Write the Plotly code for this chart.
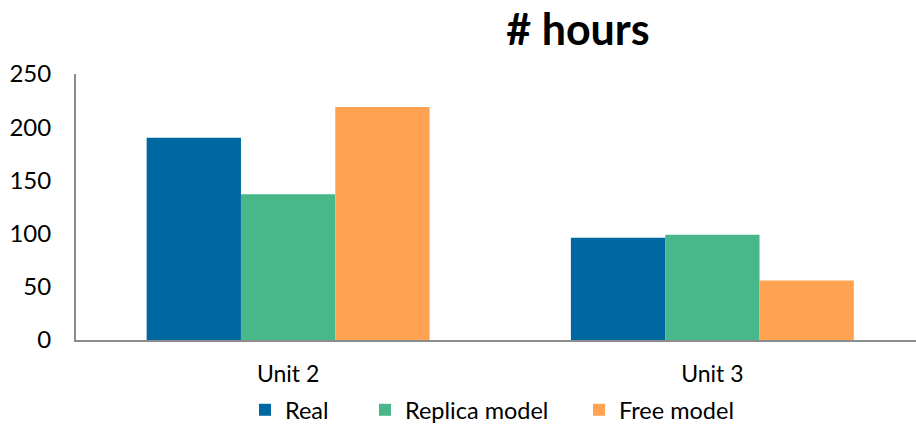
import plotly.graph_objects as go

categories = ["Unit 2", "Unit 3"]
real = [190, 96]
replica = [137, 99]
free = [219, 56]
series_names = ["Real", "Replica model", "Free model"]
colors = ["#0068A1", "#48B78A", "#FFA352"]
y_ticks = [0, 50, 100, 150, 200, 250]
legend_ids = ["legend", "legend2", "legend3"]
legend_x = [245, 365, 579]  # container px, left edge of each legend entry

fig = go.Figure()
for name, vals, col, lg in zip(series_names, [real, replica, free], colors, legend_ids):
    fig.add_trace(go.Bar(x=categories, y=vals, name=name, marker_color=col,
                         marker_line_width=0, legend=lg))

font_family = "Lato, 'Open Sans', sans-serif"
legend_common = dict(orientation="h", xanchor="left", yanchor="middle",
                     xref="container", yref="container", y=(428 - 410) / 428,
                     font=dict(size=23.5, family=font_family, color="black"),
                     bgcolor="rgba(0,0,0,0)")
fig.update_layout(
    width=916, height=428,
    margin=dict(l=76, r=0, t=74, b=88, autoexpand=False),
    plot_bgcolor="white", paper_bgcolor="white",
    barmode="group", bargap=0.333, bargroupgap=0,
    title=dict(text="<b># hours</b>", x=578 / 916, xanchor="center",
               y=1 - 30 / 428, yanchor="middle", yref="container",
               font=dict(family=font_family, size=43, color="black")),
    font=dict(family=font_family, color="black"),
    showlegend=True,
)
for lg, lx in zip(legend_ids, legend_x):
    fig.update_layout({lg: dict(legend_common, x=lx / 916)})

fig.update_yaxes(range=[0, 250], tickvals=y_ticks, showgrid=False, zeroline=False,
                 showline=True, linecolor="#8C8C8C", linewidth=2, ticks="",
                 tickfont=dict(size=24), ticklabelstandoff=18, automargin=False)
fig.update_xaxes(range=[-0.5, 1.48], showgrid=False, showline=True, linecolor="#8C8C8C",
                 linewidth=2, ticks="", tickfont=dict(size=23), ticklabelstandoff=12,
                 automargin=False)

fig.write_html("out.html", config={"displayModeBar": False},
               post_script="document.body.style.margin='0';")
